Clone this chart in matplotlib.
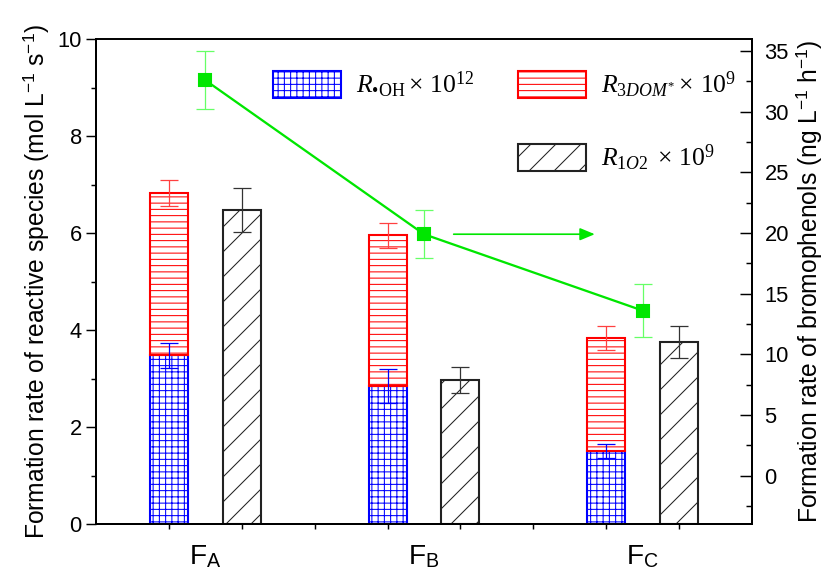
import numpy as np
import matplotlib
matplotlib.use("Agg")
import matplotlib.pyplot as plt
from matplotlib.ticker import MultipleLocator

# ---------------- data ----------------
categories = [r"$\mathsf{F}_{\mathsf{A}}$", r"$\mathsf{F}_{\mathsf{B}}$", r"$\mathsf{F}_{\mathsf{C}}$"]
r_oh = [3.48, 2.85, 1.50]          # R.OH x 1e12
r_oh_err = [0.26, 0.35, 0.14]
r_3dom = [3.34, 3.10, 2.34]        # R3DOM* x 1e9 (stacked on top of R.OH)
r_3dom_err = [0.27, 0.25, 0.25]
r_1o2 = [6.47, 2.97, 3.76]         # R1O2 x 1e9
r_1o2_err = [0.45, 0.27, 0.33]
bromo = [32.6, 19.9, 13.6]         # bromophenols formation rate
bromo_err = [2.4, 2.0, 2.2]

left_ylabel = r"Formation rate of reactive species (mol L$^{\mathregular{-1}}$ s$^{\mathregular{-1}}$)"
right_ylabel = r"Formation rate of bromophenols (ng L$^{\mathregular{-1}}$ h$^{\mathregular{-1}}$)"
leg_labels = ["$R_{\\mathrm{\u2022OH}}\\times\\,10^{12}$",
              r"$R_{3DOM^{*}}\times\,10^{9}$",
              r"$R_{1O2}\;\times\,10^{9}$"]

# ---------------- style ----------------
DPI = 150
plt.rcParams["font.family"] = ["Liberation Sans", "DejaVu Sans"]
plt.rcParams["mathtext.fontset"] = "custom"
plt.rcParams["mathtext.rm"] = "Liberation Serif"
plt.rcParams["mathtext.it"] = "Liberation Serif:italic"
plt.rcParams["mathtext.bf"] = "Liberation Serif:bold"
plt.rcParams["mathtext.sf"] = "Liberation Sans"
plt.rcParams["hatch.linewidth"] = 0.5

fig = plt.figure(figsize=(827 / DPI, 569 / DPI), dpi=DPI)
ax = fig.add_axes([96 / 827, 1 - 524 / 569, (752 - 96) / 827, (524 - 39) / 569])
ax2 = ax.twinx()

n = len(categories)
base = np.arange(n) * 3 + 1
x_stack = base
x_black = base + 1
x_grp = base + 0.5
w = 0.52

blue = "#0000ff"
red = "#ff0000"
green = "#00e600"

b1 = ax.bar(x_stack, r_oh, w, facecolor="white", edgecolor=blue, hatch="++++", lw=1.0, zorder=2)
tot = np.array(r_oh) + np.array(r_3dom)
b2 = ax.bar(x_stack, r_3dom, w, bottom=r_oh, facecolor="white", edgecolor=red, hatch="----", lw=1.0, zorder=2)
b3 = ax.bar(x_black, r_1o2, w, facecolor="white", edgecolor="#222222", hatch="//", lw=1.0, zorder=2)

ax.errorbar(x_stack, r_oh, yerr=r_oh_err, fmt="none", ecolor=blue, elinewidth=0.6, capsize=4.3, capthick=0.6, zorder=3)
ax.errorbar(x_stack, tot, yerr=r_3dom_err, fmt="none", ecolor="#ff4040", elinewidth=0.6, capsize=4.3, capthick=0.6, zorder=3)
ax.errorbar(x_black, r_1o2, yerr=r_1o2_err, fmt="none", ecolor="#333333", elinewidth=0.6, capsize=4.3, capthick=0.6, zorder=3)

ax.set_xlim(0, 9)
ax.set_ylim(0, 10)
ax.yaxis.set_major_locator(MultipleLocator(2))
ax.yaxis.set_minor_locator(MultipleLocator(1))
ax.set_xticks(np.arange(1, 9))
ax.set_xticklabels([])
ax.set_xticks(x_grp, minor=True)
ax.set_xticklabels(categories, minor=True)
ax.tick_params(axis="x", which="major", direction="out", length=2.2, width=0.7, labelsize=10)
ax.tick_params(axis="x", which="minor", length=0, labelsize=13.5, pad=9)
ax.tick_params(axis="y", which="major", direction="out", length=4.8, width=0.7, labelsize=10.5, pad=2)
ax.tick_params(axis="y", which="minor", direction="out", length=2.6, width=0.7)
for s in ax.spines.values():
    s.set_linewidth(0.9)
ax.spines["top"].set_color("#555555")
ax.set_ylabel(left_ylabel, fontsize=11.8, labelpad=3)

# right axis
ax2.errorbar(x_grp, bromo, yerr=bromo_err, fmt="none", ecolor="#66ff66", elinewidth=0.6, capsize=4.3, capthick=0.6, zorder=3)
ax2.plot(x_grp, bromo, color=green, lw=1.1, marker="s", ms=5.4, mfc=green, mec=green, zorder=4)
ax2.annotate("", xy=(x_grp[1] + 2.4, bromo[1]), xytext=(x_grp[1] + 0.35, bromo[1]),
             arrowprops=dict(arrowstyle="-|>,head_length=0.6,head_width=0.25", color=green, lw=0.8, mutation_scale=10))
ax2.set_ylim(-4, 36)
ax2.yaxis.set_major_locator(MultipleLocator(5))
ax2.yaxis.set_minor_locator(MultipleLocator(2.5))
ax2.set_yticks(np.arange(0, 36, 5))
ax2.tick_params(axis="y", which="major", direction="in", length=5.8, width=0.7, labelsize=10.5, pad=6)
ax2.tick_params(axis="y", which="minor", direction="in", length=2.9, width=0.7)
for s in ax2.spines.values():
    s.set_linewidth(0.9)
ax2.set_ylabel(right_ylabel, fontsize=11.8, labelpad=2.5)

# legends
leg_fs = 12.3
serif_props = dict(family=["Liberation Serif", "DejaVu Serif"], size=leg_fs)
common = dict(frameon=False, borderpad=0, borderaxespad=0, handlelength=68 / 25.6,
              handleheight=32 / 25.6, handletextpad=0.6, loc="upper left",
              bbox_transform=fig.transFigure, prop=serif_props)
l1 = ax2.legend([b1], [leg_labels[0]], bbox_to_anchor=(273 / 827, 1 - 70 / 569), **common)
ax2.add_artist(l1)
l2 = ax2.legend([b2], [leg_labels[1]], bbox_to_anchor=(518 / 827, 1 - 70 / 569), **common)
ax2.add_artist(l2)
l3 = ax2.legend([b3], [leg_labels[2]], bbox_to_anchor=(518 / 827, 1 - 143 / 569), **common)

fig.savefig("out.png", dpi=DPI)
